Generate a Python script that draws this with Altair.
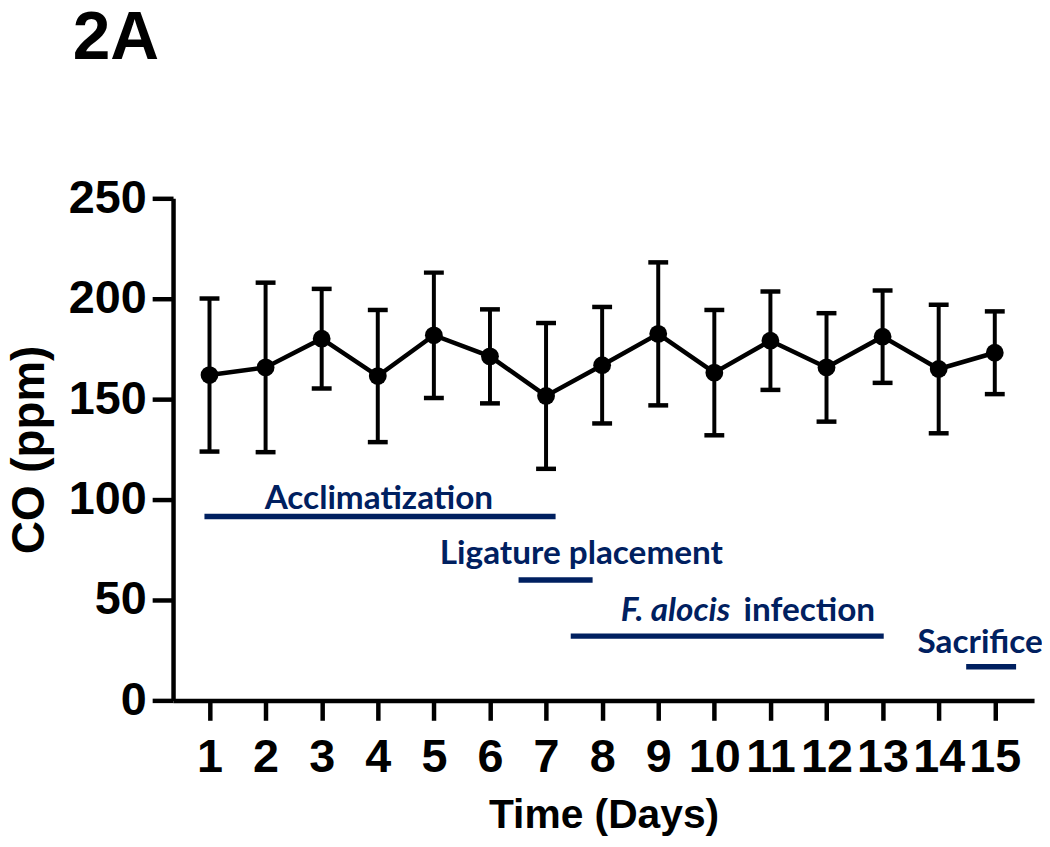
import altair as alt
import pandas as pd

# ---- data ----
days = list(range(1, 16))
co_mean = [162.0, 165.8, 180.1, 161.5, 181.8, 171.3, 151.6, 166.9,
           182.5, 163.2, 179.1, 165.8, 181.1, 165.0, 173.1]
co_sd = [38.1, 42.2, 24.8, 32.9, 31.2, 23.4, 36.3, 29.0,
         35.6, 31.2, 24.5, 27.0, 23.0, 32.0, 20.6]

phase_names = ["Acclimatization", "Ligature placement", "F. alocis infection", "Sacrifice"]
phase_start = [0.91, 6.51, 7.44, 14.49]
phase_end = [7.17, 7.83, 13.02, 15.38]
phase_level = [91.6, 59.9, 32.0, 16.7]

label_text = ["Acclimatization", "Ligature placement", "infection", "Sacrifice"]
label_x = [4.02, 7.63, 10.52, 14.74]
label_y = [95.5, 67.8, 39.75, 23.6]
label_align = ["center", "center", "left", "center"]

italic_text = ["F. alocis"]
italic_x = [8.33]
italic_y = [39.75]

y_ticks = [0, 50, 100, 150, 200, 250]

NAVY = "#002060"
FONT = "Liberation Sans"
ANN_FONT = "Lato"
ANN_SIZE = 33.5

df = pd.DataFrame({
    "day": days,
    "mean": co_mean,
    "lo": [m - s for m, s in zip(co_mean, co_sd)],
    "hi": [m + s for m, s in zip(co_mean, co_sd)],
})
phases = pd.DataFrame({"name": phase_names, "start": phase_start,
                       "end": phase_end, "level": phase_level})
labels = pd.DataFrame({"text": label_text, "x": label_x, "y": label_y,
                       "align": label_align})
italics = pd.DataFrame({"text": italic_text, "x": italic_x, "y": italic_y})

xscale = alt.Scale(domain=[0.35, 15.7], nice=False, zero=False)
yscale = alt.Scale(domain=[0, 250], nice=False)

xaxis = alt.Axis(
    values=days, format="d", title="Time (Days)",
    labelFont=FONT, labelFontWeight="bold", labelFontSize=47, labelColor="black",
    labelBaseline="alphabetic", labelPadding=52, labelFlush=False, labelOverlap=False,
    tickSize=20, tickWidth=4.5, tickColor="black",
    domainWidth=4.5, domainColor="black", grid=False,
    titleFont=FONT, titleFontWeight="bold", titleFontSize=41, titleColor="black",
    titleBaseline="alphabetic", titleX=433, titleY=128, titleAlign="center",
)
yaxis = alt.Axis(
    values=y_ticks, title="CO (ppm)",
    labelFont=FONT, labelFontWeight="bold", labelFontSize=47, labelColor="black",
    labelPadding=6, labelFlush=False, labelOverlap=False,
    tickSize=21, tickWidth=4.5, tickColor="black",
    domainWidth=4.5, domainColor="black", grid=False,
    titleFont=FONT, titleFontWeight="bold", titleFontSize=46, titleColor="black",
    titleAngle=270, titleBaseline="alphabetic", titleAlign="center",
    titleX=-130, titleY=252.5,
)

base = alt.Chart(df)

line = base.mark_line(color="black", strokeWidth=4.5).encode(
    x=alt.X("day:Q", scale=xscale, axis=xaxis),
    y=alt.Y("mean:Q", scale=yscale, axis=yaxis),
)
stems = base.mark_rule(color="black", strokeWidth=4).encode(
    x="day:Q", y="lo:Q", y2="hi:Q")
cap_hi = base.mark_tick(color="black", orient="horizontal", size=20,
                        thickness=4.5, opacity=1).encode(x="day:Q", y="hi:Q")
cap_lo = base.mark_tick(color="black", orient="horizontal", size=20,
                        thickness=4.5, opacity=1).encode(x="day:Q", y="lo:Q")
dots = base.mark_circle(color="black", size=320, opacity=1).encode(
    x="day:Q", y="mean:Q")

phase_bars = alt.Chart(phases).mark_rule(color=NAVY, strokeWidth=5.5,
                                         strokeCap="butt").encode(
    x="start:Q", x2="end:Q", y="level:Q")

def text_layer(align):
    return alt.Chart(labels[labels["align"] == align]).mark_text(
        font=ANN_FONT, fontWeight="bold", fontSize=ANN_SIZE, color=NAVY,
        align=align, baseline="alphabetic").encode(
        x="x:Q", y="y:Q", text="text:N")

texts_c = text_layer("center")
texts_l = text_layer("left")
texts_i = alt.Chart(italics).mark_text(
    font=ANN_FONT, fontWeight="bold", fontStyle="italic", fontSize=ANN_SIZE,
    color=NAVY, align="left", baseline="alphabetic").encode(
    x="x:Q", y="y:Q", text="text:N")

chart = alt.layer(
    line, stems, cap_hi, cap_lo, dots, phase_bars, texts_c, texts_l, texts_i
).properties(
    width=866, height=505,
    title=alt.TitleParams("2A", anchor="start", frame="group", font=FONT,
                          fontWeight="bold", fontSize=68, color="black",
                          baseline="alphabetic", dx=-101, offset=48),
    autosize=alt.AutoSizeParams(type="none"),
    padding={"left": 166, "top": 189, "right": 8, "bottom": 137},
).configure_view(stroke=None)

chart.save("out.html", embed_options={"renderer": "svg", "actions": False})
